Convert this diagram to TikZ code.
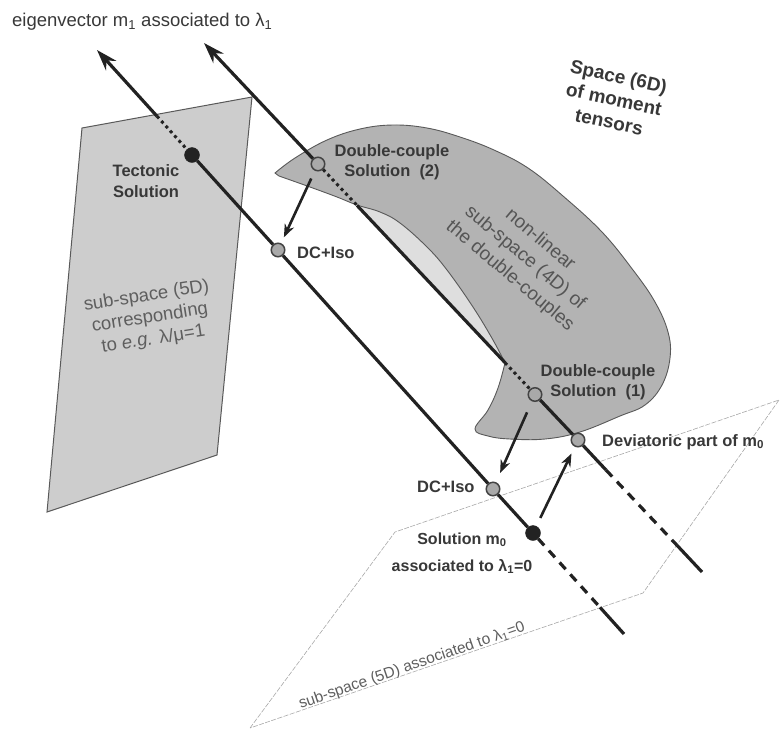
\documentclass[tikz,border=0pt]{standalone}
\usepackage{fontspec}
\setmainfont{Liberation Sans}
\usetikzlibrary{arrows.meta}
\definecolor{txt}{HTML}{383838}
\definecolor{ltxt}{HTML}{5E5E5E}
\definecolor{ink}{HTML}{222222}
\definecolor{planefill}{HTML}{CDCDCD}
\definecolor{blobfill}{HTML}{B3B3B3}
\definecolor{crescfill}{HTML}{DEDEDE}
\definecolor{dotfill}{HTML}{A9A9A9}
\definecolor{faint}{HTML}{A8A8A8}
\tikzset{
  mainline/.style={draw=ink, line width=3.2pt},
  dotseg/.style={draw=ink, line width=3pt, dash pattern=on 3pt off 3.5pt},
  dashseg/.style={draw=ink, line width=3.2pt, dash pattern=on 9pt off 7pt},
  bigtip/.style={-{Stealth[length=21pt,width=14pt]}},
  smallarrow/.style={draw=ink, line width=2.6pt, -{Stealth[length=13pt,width=10pt]}},
  graydot/.style={circle, draw=ink!85, line width=1.5pt, fill=dotfill, minimum size=13.5pt, inner sep=0pt},
  blackdot/.style={circle, draw=ink, fill=ink, minimum size=15pt, inner sep=0pt},
  lbl/.style={text=txt, font=\bfseries\fontsize{16.5}{20}\selectfont, align=center, inner sep=0pt},
  planeedge/.style={draw=faint, line width=0.6pt, dash pattern=on 5pt off 1.5pt},
  lplane/.style={draw=ink!75, line width=1pt, fill=planefill},
  blobst/.style={draw=ink!75, line width=0.9pt, fill=blobfill},
  softtxt/.style={text=ltxt, inner sep=0pt, align=center}
}
\begin{document}
\begin{tikzpicture}[x=1pt,y=-1pt]
\useasboundingbox (0,0) rectangle (784,732);
% bottom sub-space plane
\coordinate (q1) at (250,728);
\coordinate (q2) at (395,532);
\coordinate (q3) at (779,400);
\coordinate (q4) at (643,593);
\draw[planeedge] (q1) -- (q2) -- (q3) -- (q4) -- cycle;
% left plane
\coordinate (p1) at (82,128);
\coordinate (p2) at (252,97);
\coordinate (p3) at (217,455);
\coordinate (p4) at (47,512);
\draw[lplane] (p1) -- (p2) -- (p3) -- (p4) -- cycle;
% crescent (underside of the fold)
\fill[crescfill] (357,205.4) -- (505,362.6) -- plot[smooth,tension=0.7] coordinates {(505,362.6) (499,338) (480,305) (454,268) (433,244) (404,220) (380,210) (357,205.4)} -- cycle;
% blob: double-couple sub-space
\draw[blobst] plot[smooth,tension=0.65] coordinates {(505,363) (498,388) (488,410) (475,429) (488,436) (510,439) (545,439) (580,432) (620,416) (645,405) (662,385) (670,358) (668,332) (655,302) (633,270) (602,232) (563,196) (528,168) (494,150) (460,137) (427,128) (393,125) (360,129) (327,140) (295,158) (275,173)}
  -- plot[smooth,tension=0.65] coordinates {(279,176) (310,187) (337,197) (357,205) (380,212) (400,223) (427,247) (447,270) (473,307) (493,340) (505,363)} -- cycle;
% points
\node[blackdot] (tect) at (192,155) {};
\node[graydot] (dci1) at (278,250) {};
\node[graydot] (dci2) at (493,489) {};
\node[blackdot] (m0) at (533,533) {};
\node[graydot] (dc2) at (318,164) {};
\node[graydot] (dc1) at (535,394.5) {};
\node[graydot] (dev) at (578,440) {};
% line A coordinates
\coordinate (atip) at (97,50);
\coordinate (aP) at (157,116.2);
\coordinate (aQ) at (600,607.3);
\coordinate (aend) at (624,634);
% line B coordinates
\coordinate (btip) at (204,43);
\coordinate (bc1) at (357,205.4);
\coordinate (bc2) at (505,362.6);
\coordinate (bD) at (606,470);
\coordinate (bE) at (677,545.3);
\coordinate (bend) at (702,572);
% line A
\draw[mainline,bigtip] (aP) -- (atip);
\draw[dotseg] (aP) -- (tect);
\draw[mainline] (tect) -- (dci1) -- (dci2) -- (m0);
\draw[dashseg] (m0) -- (aQ);
\draw[mainline] (aQ) -- (aend);
% line B
\draw[mainline,bigtip] (dc2) -- (btip);
\draw[dotseg] (dc2) -- (bc1);
\draw[mainline] (bc1) -- (bc2);
\draw[dotseg] (bc2) -- (dc1);
\draw[mainline] (dc1) -- (dev) -- (bD);
\draw[dashseg] (bD) -- (bE);
\draw[mainline] (bE) -- (bend);
% projection arrows
\draw[smallarrow, shorten <=8.5pt, shorten >=6.5pt] (dc2) -- (dci1);
\draw[smallarrow, shorten <=12pt, shorten >=10pt] (dc1) -- (dci2);
\draw[smallarrow, shorten <=9pt, shorten >=7.5pt] (m0) -- (dev);
% labels
\node[text=txt, inner sep=0pt, anchor=west, font=\fontsize{18.5}{22}\selectfont] (title) at (12,22) {eigenvector m\textsubscript{1} associated to λ\textsubscript{1}};
\node[lbl, font=\bfseries\fontsize{19}{23}\selectfont, rotate=-12] (space) at (614,99) {Space (6D)\\of moment\\tensors};
\node[lbl, font=\bfseries\fontsize{16.5}{21}\selectfont] (ttect) at (146,181) {Tectonic\\Solution};
\node[lbl] (tdc2) at (392,162) {Double-couple\\Solution\ \ (2)};
\node[lbl, anchor=west] (tdci1) at (297,253) {DC+Iso};
\node[softtxt, font=\fontsize{19}{23.5}\selectfont, text=ltxt!90!black, rotate=-40] (tblob) at (525,258) {non-linear\\sub-space (4D) of\\the double-couples};
\node[lbl] (tdc1) at (598,382) {Double-couple\\Solution\ \ (1)};
\node[lbl, anchor=west] (tdev) at (602,442) {Deviatoric part of m\textsubscript{0}};
\node[lbl, anchor=west] (tdci2) at (417,487) {DC+Iso};
\node[lbl, font=\bfseries\fontsize{16}{27}\selectfont] (tm0) at (462,553) {Solution m\textsubscript{0}\\associated to λ\textsubscript{1}=0};
\node[softtxt, font=\fontsize{18.5}{22}\selectfont, rotate=9] (tplane) at (150,318) {sub-space (5D)\\corresponding\\to \textit{e.g.} λ/μ=1};
\node[softtxt, font=\fontsize{15.5}{18}\selectfont, rotate=19] (tbottom) at (412,666) {sub-space (5D) associated to λ\textsubscript{1}=0};
\end{tikzpicture}
\end{document}
